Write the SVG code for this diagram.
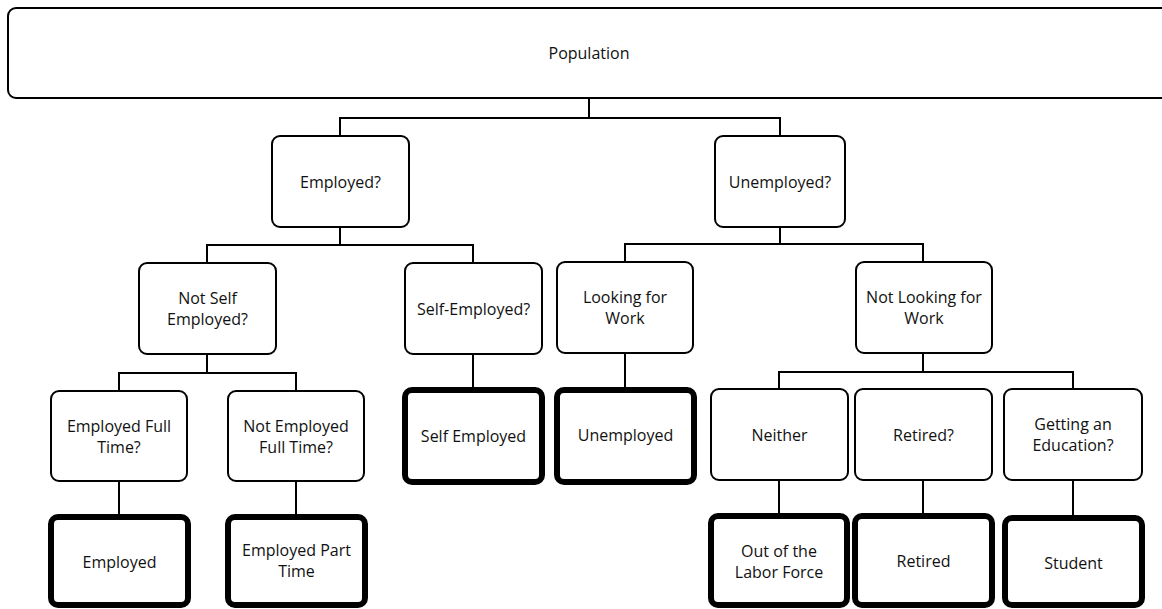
<svg xmlns="http://www.w3.org/2000/svg" width="1162" height="609" viewBox="0 0 1162 609">
<style>
.b{fill:#fff;stroke:#000;stroke-width:2}
.t{fill:#fff;stroke:#000;stroke-width:6}
.c{fill:none;stroke:#000;stroke-width:2}
text{font-family:"Open Sans","Liberation Sans",sans-serif;font-size:16px;fill:#111;text-anchor:middle;dominant-baseline:central}
</style>
<rect width="1162" height="609" fill="#fff"/>
<g id="connectors">
<path class="c" d="M589 98V118M340 136V118H780V136"/>
<path class="c" d="M340 227V245M207 263V245H473V263"/>
<path class="c" d="M780 227V244M625 262V244H923V262"/>
<path class="c" d="M207 354V373M119 391V373H296V391"/>
<path class="c" d="M119 481V517M296 481V517"/>
<path class="c" d="M473 354V390M625 353V390"/>
<path class="c" d="M923 353V372M779 389V372H1073V389"/>
<path class="c" d="M779 480V516M923 480V516M1073 480V518"/>
</g>
<g id="population"><rect class="b" x="8" y="8" width="1175" height="90" rx="8"/><text x="589" y="53">Population</text></g>
<g id="employed-q"><rect class="b" x="272" y="136" width="137" height="91" rx="8"/><text x="340.5" y="181.5">Employed?</text></g>
<g id="unemployed-q"><rect class="b" x="715" y="136" width="130" height="91" rx="8"/><text x="780" y="181.5">Unemployed?</text></g>
<g id="not-self-employed-q"><rect class="b" x="139" y="263" width="137" height="91" rx="8"/><text x="207.5" y="298">Not Self</text><text x="207.5" y="319">Employed?</text></g>
<g id="self-employed-q"><rect class="b" x="405" y="263" width="137" height="91" rx="8"/><text x="473.5" y="308.5">Self-Employed?</text></g>
<g id="looking"><rect class="b" x="557" y="262" width="136" height="91" rx="8"/><text x="625" y="297">Looking for</text><text x="625" y="318">Work</text></g>
<g id="not-looking"><rect class="b" x="856" y="262" width="136" height="91" rx="8"/><text x="924" y="297">Not Looking for</text><text x="924" y="318">Work</text></g>
<g id="employed-full-q"><rect class="b" x="51" y="391" width="136" height="90" rx="8"/><text x="119" y="425.5">Employed Full</text><text x="119" y="446.5">Time?</text></g>
<g id="not-employed-full-q"><rect class="b" x="228" y="391" width="136" height="90" rx="8"/><text x="296" y="425.5">Not Employed</text><text x="296" y="446.5">Full Time?</text></g>
<g id="neither"><rect class="b" x="711" y="389" width="137" height="91" rx="8"/><text x="779.5" y="434.5">Neither</text></g>
<g id="retired-q"><rect class="b" x="855" y="389" width="137" height="91" rx="8"/><text x="923.5" y="434.5">Retired?</text></g>
<g id="education-q"><rect class="b" x="1004" y="389" width="138" height="91" rx="8"/><text x="1073" y="424">Getting an</text><text x="1073" y="445">Education?</text></g>
<g id="employed"><rect class="t" x="51" y="517" width="137" height="88" rx="7"/><text x="119.5" y="562">Employed</text></g>
<g id="employed-part-time"><rect class="t" x="228" y="517" width="137" height="88" rx="7"/><text x="296.5" y="550">Employed Part</text><text x="296.5" y="571">Time</text></g>
<g id="self-employed"><rect class="t" x="405" y="390" width="137" height="92" rx="7"/><text x="473.5" y="436">Self Employed</text></g>
<g id="unemployed"><rect class="t" x="557" y="390" width="137" height="92" rx="7"/><text x="625.5" y="435">Unemployed</text></g>
<g id="out-of-labor-force"><rect class="t" x="711" y="516" width="136" height="89" rx="7"/><text x="779" y="551">Out of the</text><text x="779" y="572">Labor Force</text></g>
<g id="retired"><rect class="t" x="855" y="516" width="137" height="89" rx="7"/><text x="923.5" y="561">Retired</text></g>
<g id="student"><rect class="t" x="1005" y="518" width="137" height="87" rx="7"/><text x="1073.5" y="563">Student</text></g>
</svg>
